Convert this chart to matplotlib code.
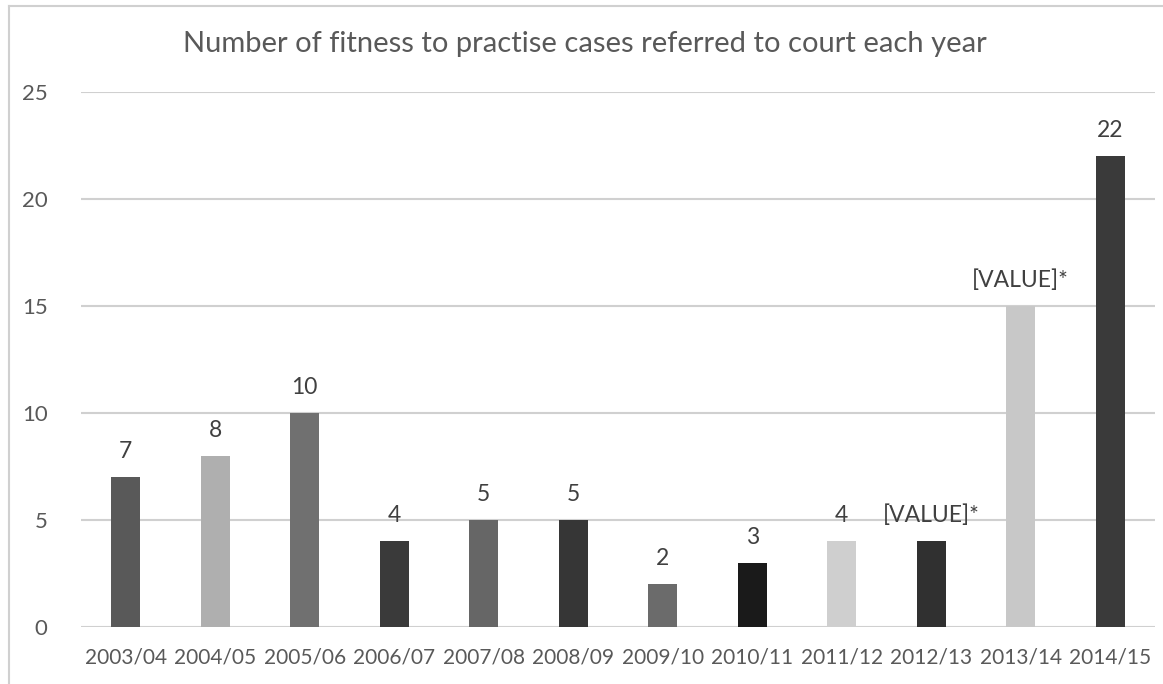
import matplotlib
matplotlib.use("Agg")
import matplotlib.pyplot as plt
from matplotlib.lines import Line2D

# Data
years = ["2003/04", "2004/05", "2005/06", "2006/07", "2007/08", "2008/09",
         "2009/10", "2010/11", "2011/12", "2012/13", "2013/14", "2014/15"]
cases = [7, 8, 10, 4, 5, 5, 2, 3, 4, 4, 15, 22]
value_labels = ["7", "8", "10", "4", "5", "5", "2", "3", "4",
                "[VALUE]*", "[VALUE]*", "22"]
bar_colors = ["#595959", "#afafaf", "#707070", "#3a3a3a", "#666666", "#363636",
              "#6b6b6b", "#1a1a1a", "#cfcfcf", "#303030", "#c8c8c8", "#3a3a3a"]
y_ticks = [0, 5, 10, 15, 20, 25]
title = "Number of fitness to practise cases referred to court each year"

W, H = 1163, 684
plt.rcParams["font.family"] = ["Lato", "DejaVu Sans"]

fig = plt.figure(figsize=(W / 100, H / 100), dpi=100)
fig.patch.set_facecolor("white")

# plot area in pixel coordinates
left, right, bottom_px, top_px = 81, 1155, 627, 92
ax = fig.add_axes([left / W, 1 - bottom_px / H, (right - left) / W,
                   (bottom_px - top_px) / H])

x = range(len(years))
bars = ax.bar(x, cases, width=0.325, color=bar_colors, zorder=3)
ax.bar_label(bars, labels=value_labels, padding=11, fontsize=16.5,
             color="#404040")

ax.set_xlim(-0.5, len(years) - 0.5)
ax.set_ylim(0, 25)
ax.set_yticks(y_ticks)
ax.set_xticks(list(x))
ax.set_xticklabels(years)
ax.tick_params(axis="both", length=0, labelcolor="#595959")
ax.tick_params(axis="x", labelsize=15, pad=15)
ax.tick_params(axis="y", labelsize=16, pad=24)
ax.grid(axis="y", color="#d0d0d0", linewidth=1.5, zorder=0)
ax.set_axisbelow(True)
for s in ax.spines.values():
    s.set_visible(False)

# chart title
fig.text(585 / W, 1 - 44 / H, title, ha="center", va="center",
         fontsize=21, color="#595959")

# chart frame (left and top edges)
fx0, fy0 = 8.5 / W, 1 - 5.5 / H
fig.add_artist(Line2D([fx0, fx0], [0, fy0], transform=fig.transFigure,
                      color="#d0d0d0", linewidth=1.5))
fig.add_artist(Line2D([fx0, 1], [fy0, fy0], transform=fig.transFigure,
                      color="#d0d0d0", linewidth=1.5))

fig.savefig("out.png", dpi=100)
